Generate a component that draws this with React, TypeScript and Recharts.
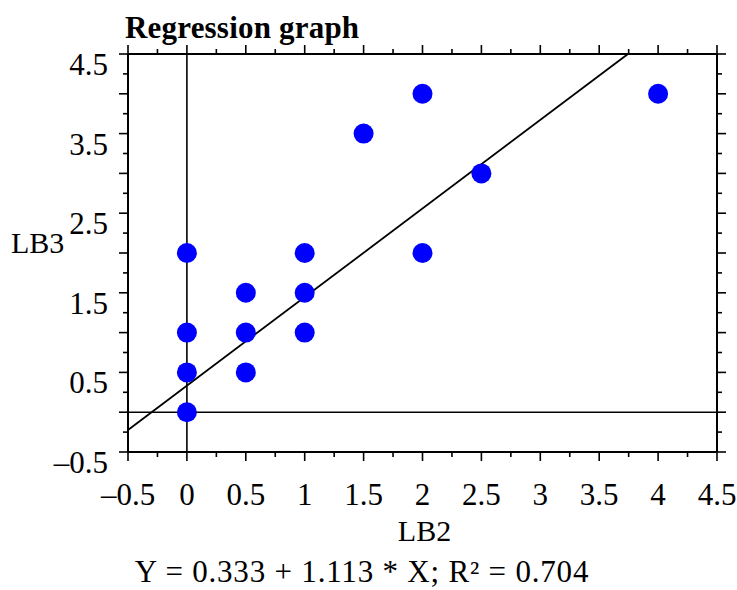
import React from 'react';
import { ScatterChart, Scatter, XAxis, YAxis, ReferenceLine } from 'recharts';

const lb2 = [0, 0, 0, 0, 0.5, 0.5, 0.5, 1, 1, 1, 1.5, 2, 2, 2.5, 4];
const lb3 = [0, 0.5, 1, 2, 0.5, 1, 1.5, 1, 1.5, 2, 3.5, 2, 4, 3, 4];

// fitted line
const intercept = 0.333;
const slope = 1.113;
const rSquared = 0.704;

const axisTicks = [
  -0.5, -0.25, 0, 0.25, 0.5, 0.75, 1, 1.25, 1.5, 1.75, 2, 2.25, 2.5, 2.75, 3, 3.25, 3.5, 3.75, 4, 4.25,
  4.5,
];
const majorTicks = [-0.5, 0, 0.5, 1, 1.5, 2, 2.5, 3, 3.5, 4, 4.5];
const xLabels = [-0.5, 0, 0.5, 1, 1.5, 2, 2.5, 3, 3.5, 4, 4.5];
const yLabels = [-0.5, 0.5, 1.5, 2.5, 3.5, 4.5];

const points = lb2.map((x, i) => ({ x, y: lb3[i] }));
const lo = -0.5;
const hi = 4.5;
const fitLine = [
  { x: lo, y: intercept + slope * lo },
  { x: (hi - intercept) / slope, y: hi },
];

const FONT = '"Liberation Serif", "Times New Roman", serif';
const fmt = (v: number) => (v < 0 ? '\u2013' + String(-v) : String(v));

function AxisTick(props: any) {
  const { x, y, payload, side } = props;
  const v = payload.value;
  const len = majorTicks.includes(v) ? 9 : 5;
  let line;
  if (side === 'bottom') line = <line x1={x} x2={x} y1={y} y2={y + len} />;
  else if (side === 'top') line = <line x1={x} x2={x} y1={y} y2={y - len} />;
  else if (side === 'left') line = <line x1={x} x2={x - len} y1={y} y2={y} />;
  else line = <line x1={x} x2={x + len} y1={y} y2={y} />;

  let label = null;
  if (side === 'bottom' && xLabels.includes(v)) {
    label = (
      <text x={x} y={y + 53} textAnchor="middle" fontSize={31} fontFamily={FONT} fill="#000">
        {fmt(v)}
      </text>
    );
  }
  if (side === 'left' && yLabels.includes(v)) {
    label = (
      <text x={x - 20} y={y + 21} textAnchor="end" fontSize={31} fontFamily={FONT} fill="#000">
        {fmt(v)}
      </text>
    );
  }
  return (
    <g stroke="#000" strokeWidth={1.6}>
      {line}
      <g stroke="none">{label}</g>
    </g>
  );
}

const dot = (p: any) => <circle cx={p.cx} cy={p.cy} r={10} fill="#0000FF" />;

export default function App() {
  const axisLine = { stroke: '#000', strokeWidth: 2 };
  return (
    <div style={{ position: 'absolute', left: 0, top: 0, width: 737, height: 590, background: '#fff' }}>
      <div
        style={{
          position: 'absolute',
          left: 125,
          top: 12,
          fontFamily: FONT,
          fontWeight: 'bold',
          fontSize: 31,
          lineHeight: '31px',
          letterSpacing: 0.2,
          whiteSpace: 'nowrap',
        }}
      >
        Regression graph
      </div>
      <ScatterChart width={737} height={590} margin={{ top: 53, right: 19, bottom: 0, left: 0 }}>
        <XAxis
          type="number"
          dataKey="x"
          domain={[lo, hi]}
          ticks={axisTicks}
          interval={0}
          allowDataOverflow
          height={138}
          tickSize={0}
          tickMargin={0}
          tickLine={false}
          axisLine={axisLine}
          tick={(p: any) => <AxisTick {...p} side="bottom" />}
          label={{
            content: ({ viewBox }: any) => (
              <text
                x={viewBox.x + viewBox.width / 2 + 2}
                y={viewBox.y + 89}
                textAnchor="middle"
                fontSize={30}
                fontFamily={FONT}
                fill="#000"
              >
                LB2
              </text>
            ),
          }}
        />
        <XAxis
          xAxisId="top"
          orientation="top"
          type="number"
          dataKey="x"
          domain={[lo, hi]}
          ticks={axisTicks}
          interval={0}
          allowDataOverflow
          height={1}
          tickSize={0}
          tickMargin={0}
          tickLine={false}
          axisLine={axisLine}
          tick={(p: any) => <AxisTick {...p} side="top" />}
        />
        <YAxis
          type="number"
          dataKey="y"
          domain={[lo, hi]}
          ticks={axisTicks}
          interval={0}
          allowDataOverflow
          width={128}
          tickSize={0}
          tickMargin={0}
          tickLine={false}
          axisLine={axisLine}
          tick={(p: any) => <AxisTick {...p} side="left" />}
          label={{
            content: () => (
              <text x={11} y={253} textAnchor="start" fontSize={30} fontFamily={FONT} fill="#000">
                LB3
              </text>
            ),
          }}
        />
        <YAxis
          yAxisId="right"
          orientation="right"
          type="number"
          dataKey="y"
          domain={[lo, hi]}
          ticks={axisTicks}
          interval={0}
          allowDataOverflow
          width={1}
          tickSize={0}
          tickMargin={0}
          tickLine={false}
          axisLine={axisLine}
          tick={(p: any) => <AxisTick {...p} side="right" />}
        />
        <ReferenceLine x={0} stroke="#000" strokeWidth={1.6} />
        <ReferenceLine y={0} stroke="#000" strokeWidth={1.6} />
        <ReferenceLine segment={fitLine} stroke="#000" strokeWidth={1.8} />
        <Scatter data={points} shape={dot} isAnimationActive={false} />
      </ScatterChart>
      <div
        style={{
          position: 'absolute',
          left: 0,
          width: 724,
          top: 559,
          textAlign: 'center',
          fontFamily: FONT,
          fontSize: 31,
          lineHeight: '26px',
          letterSpacing: 0.8,
          whiteSpace: 'nowrap',
        }}
      >
        {`Y = ${intercept.toFixed(3)} + ${slope.toFixed(3)} * X; R\u00b2 = ${rSquared.toFixed(3)}`}
      </div>
    </div>
  );
}
